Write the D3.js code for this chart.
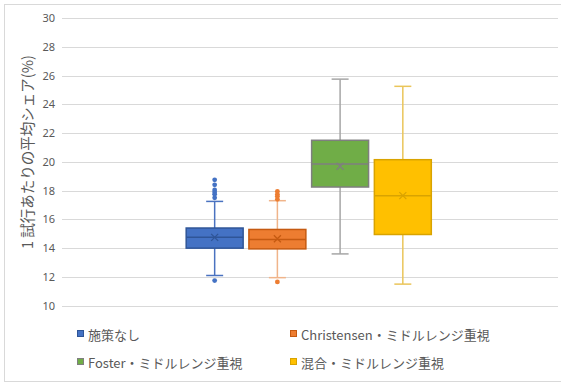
<!DOCTYPE html>
<html>
<head>
<meta charset="utf-8">
<script src="https://cdn.jsdelivr.net/npm/d3@7"></script>
<style>
  html, body { margin: 0; padding: 0; background: #fff; }
  svg { display: block; font-family: "Noto Sans CJK JP", "Noto Sans", sans-serif; }
</style>
</head>
<body>
<svg id="chart" width="561" height="385"></svg>
<script>
// Series and five-number summaries (percent share per trial)
const seriesNames = ["施策なし", "Christensen・ミドルレンジ重視", "Foster・ミドルレンジ重視", "混合・ミドルレンジ重視"];
const whiskerLow  = [12.1, 11.95, 13.6, 11.5];
const q1Values    = [14.0, 13.95, 18.25, 14.95];
const medians     = [14.75, 14.6, 19.85, 17.65];
const q3Values    = [15.4, 15.3, 21.5, 20.15];
const whiskerHigh = [17.25, 17.3, 25.75, 25.25];
const means       = [14.75, 14.65, 19.7, 17.65];
const outliersHigh = [[17.5, 17.75, 17.9, 18.05, 18.4, 18.75], [17.4, 17.6, 17.75, 17.95], [], []];
const outliersLow  = [[11.75], [11.65], [], []];
const yTicks = [10, 12, 14, 16, 18, 20, 22, 24, 26, 28, 30];

const fills   = ["#4472C4", "#ED7D31", "#70AD47", "#FFC000"];
const strokes = ["#2F5597", "#C55A11", "#7F7F7F", "#D9A300"];
const whiskerColors = ["#4A72C0", "#F0B48A", "#A6A6A6", "#EAC55A"];
const pointColors = ["#4472C4", "#ED7D31", "#70AD47", "#FFC000"];

const svg = d3.select("#chart");
const textColor = "#595959";

// Chart frame
svg.append("rect")
  .attr("x", 4.5).attr("y", 4.5).attr("width", 560).attr("height", 377)
  .attr("fill", "#fff").attr("stroke", "#d9d9d9").attr("stroke-width", 1);

const plot = { left: 62, right: 558, top: 18, bottom: 305.7 };

const y = d3.scaleLinear().domain([10, 30]).range([plot.bottom, plot.top]);
const x = d3.scaleBand().domain(seriesNames)
  .range([plot.left, plot.right])
  .paddingInner(0.092).paddingOuter(2.0).align(0.495);

// Gridlines
svg.append("g").selectAll("line").data(yTicks).join("line")
  .attr("x1", plot.left).attr("x2", plot.right)
  .attr("y1", d => Math.round(y(d)) + 0.5).attr("y2", d => Math.round(y(d)) + 0.5)
  .attr("stroke", "#d9d9d9").attr("stroke-width", 1);

// Y axis labels
const yAxis = d3.axisLeft(y).tickValues(yTicks).tickSize(0).tickPadding(7);
const gy = svg.append("g").attr("transform", `translate(${plot.left},0)`).call(yAxis);
gy.select(".domain").remove();
gy.selectAll("text").attr("fill", textColor).style("font-size", "11px")
  .style("font-family", "'Noto Sans', 'Noto Sans CJK JP', sans-serif");

// Y axis title
svg.append("text")
  .attr("transform", "translate(26,152) rotate(-90)")
  .attr("text-anchor", "middle").attr("dominant-baseline", "central")
  .attr("fill", textColor).style("font-size", "14.5px")
  .text("1 試行あたりの平均シェア(%)");

// Boxes
const bw = x.bandwidth();
const capW = 17;
const groups = svg.append("g").selectAll("g").data(seriesNames).join("g")
  .attr("transform", d => `translate(${x(d)},0)`);

groups.each(function(name, i) {
  const g = d3.select(this);
  const cx = bw / 2;
  // whiskers
  g.append("line").attr("x1", cx).attr("x2", cx)
    .attr("y1", y(whiskerHigh[i])).attr("y2", y(q3Values[i]))
    .attr("stroke", whiskerColors[i]).attr("stroke-width", 1.5);
  g.append("line").attr("x1", cx).attr("x2", cx)
    .attr("y1", y(q1Values[i])).attr("y2", y(whiskerLow[i]))
    .attr("stroke", whiskerColors[i]).attr("stroke-width", 1.5);
  [whiskerHigh[i], whiskerLow[i]].forEach(v => {
    g.append("line").attr("x1", cx - capW / 2).attr("x2", cx + capW / 2)
      .attr("y1", y(v)).attr("y2", y(v))
      .attr("stroke", whiskerColors[i]).attr("stroke-width", 1.5);
  });
  // box
  g.append("rect")
    .attr("x", 0).attr("y", y(q3Values[i]))
    .attr("width", bw).attr("height", y(q1Values[i]) - y(q3Values[i]))
    .attr("fill", fills[i]).attr("stroke", strokes[i]).attr("stroke-width", 1.5);
  // median
  g.append("line").attr("x1", 0).attr("x2", bw)
    .attr("y1", y(medians[i])).attr("y2", y(medians[i]))
    .attr("stroke", strokes[i]).attr("stroke-width", 1.5);
  // mean marker
  const my = y(means[i]), s = 3.5;
  g.append("path")
    .attr("d", `M${cx - s},${my - s}L${cx + s},${my + s}M${cx - s},${my + s}L${cx + s},${my - s}`)
    .attr("stroke", strokes[i]).attr("stroke-width", 1.3).attr("fill", "none");
  // outliers
  g.selectAll("circle.out")
    .data(outliersHigh[i].concat(outliersLow[i])).join("circle")
    .attr("class", "out")
    .attr("cx", cx).attr("cy", d => y(d)).attr("r", 2.4)
    .attr("fill", pointColors[i]);
});

// Legend
const legendPos = [[77, 334], [290, 334], [77, 362], [290, 362]];
const legend = svg.append("g").selectAll("g").data(seriesNames).join("g")
  .attr("transform", (d, i) => `translate(${legendPos[i][0]},${legendPos[i][1]})`);
legend.append("rect")
  .attr("x", 0.5).attr("y", -3.5).attr("width", 6).attr("height", 6)
  .attr("fill", (d, i) => fills[i]).attr("stroke", (d, i) => strokes[i]).attr("stroke-width", 1);
legend.append("text")
  .attr("x", 11).attr("y", 0).attr("dominant-baseline", "central")
  .attr("fill", textColor).style("font-size", "13px")
  .text(d => d);
</script>
</body>
</html>
